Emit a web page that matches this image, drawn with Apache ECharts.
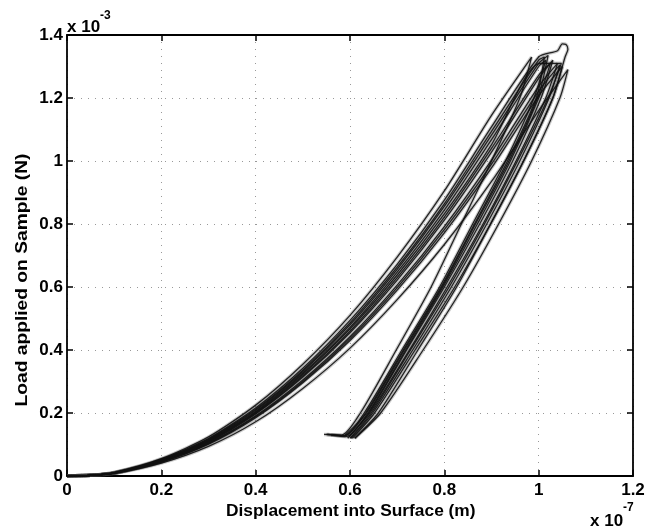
<!DOCTYPE html>
<html><head><meta charset="utf-8">
<script src="https://cdn.jsdelivr.net/npm/echarts@6/dist/echarts.min.js"></script>
<style>html,body{margin:0;padding:0;background:#fff}#c{width:652px;height:532px}</style>
</head><body><div id="c"></div>
<script>
// Tick values / labels (x in units of 1e-7 m, y in units of 1e-3 N)
const xTickValues = [0, 0.2, 0.4, 0.6, 0.8, 1.0, 1.2];
const xTickLabels = ['0', '0.2', '0.4', '0.6', '0.8', '1', '1.2'];
const yTickValues = [0, 0.2, 0.4, 0.6, 0.8, 1.0, 1.2, 1.4];
const yTickLabels = ['0', '0.2', '0.4', '0.6', '0.8', '1', '1.2', '1.4'];
const xAxisTitle = 'Displacement into Surface (m)';
const yAxisTitle = 'Load applied on Sample (N)';
const xExponent = '-7';
const yExponent = '-3';

// Loading branches [displacement, load]
const load1 = [[0,0],[0.05,0.002],[0.1,0.011],[0.2,0.055],[0.3,0.124],[0.4,0.225],[0.5,0.355],[0.6,0.51],[0.7,0.695],[0.8,0.905],[0.9,1.145],[0.985,1.33]];
const load2 = [[0,0],[0.05,0.002],[0.1,0.011],[0.2,0.053],[0.3,0.119],[0.4,0.216],[0.5,0.342],[0.6,0.494],[0.7,0.672],[0.8,0.876],[0.9,1.108],[1.0,1.33],[1.04,1.35],[1.05,1.372],[1.058,1.37]];
const load3 = [[0,0],[0.05,0.002],[0.1,0.010],[0.2,0.051],[0.3,0.115],[0.4,0.209],[0.5,0.332],[0.6,0.48],[0.7,0.656],[0.8,0.856],[0.9,1.082],[1.0,1.31],[1.02,1.335]];
const load4 = [[0,0],[0.05,0.002],[0.1,0.010],[0.2,0.049],[0.3,0.111],[0.4,0.202],[0.5,0.323],[0.6,0.467],[0.7,0.638],[0.8,0.832],[0.9,1.052],[1.003,1.31]];
const load5 = [[0,0],[0.05,0.002],[0.1,0.009],[0.2,0.047],[0.3,0.108],[0.4,0.197],[0.5,0.314],[0.6,0.455],[0.7,0.622],[0.8,0.812],[0.9,1.028],[1.0,1.262],[1.03,1.32]];
const load6 = [[0,0],[0.05,0.002],[0.1,0.009],[0.2,0.046],[0.3,0.105],[0.4,0.191],[0.5,0.305],[0.6,0.442],[0.7,0.606],[0.8,0.792],[0.9,1.003],[1.0,1.237],[1.04,1.31]];
const load7 = [[0,0],[0.05,0.002],[0.1,0.009],[0.2,0.044],[0.3,0.101],[0.4,0.185],[0.5,0.296],[0.6,0.43],[0.7,0.59],[0.8,0.772],[0.9,0.978],[1.0,1.207],[1.05,1.30]];
const load8 = [[0,0],[0.05,0.002],[0.1,0.008],[0.2,0.041],[0.3,0.094],[0.4,0.172],[0.5,0.278],[0.6,0.406],[0.7,0.56],[0.8,0.735],[0.9,0.935],[1.0,1.16],[1.062,1.29]];
const load9 = [[0,0],[0.05,0.002],[0.1,0.010],[0.2,0.050],[0.3,0.113],[0.4,0.205],[0.5,0.327],[0.6,0.472],[0.7,0.647],[0.8,0.844],[0.9,1.068],[1.0,1.30],[1.015,1.32]];
const load10 = [[0,0],[0.05,0.002],[0.1,0.009],[0.2,0.048],[0.3,0.109],[0.4,0.199],[0.5,0.318],[0.6,0.46],[0.7,0.63],[0.8,0.822],[0.9,1.04],[1.0,1.272],[1.025,1.31]];
const load11 = [[0,0],[0.05,0.002],[0.1,0.010],[0.2,0.052],[0.3,0.117],[0.4,0.212],[0.5,0.336],[0.6,0.486],[0.7,0.663],[0.8,0.864],[0.9,1.094],[1.0,1.32],[1.012,1.33]];
const load12 = [[0,0],[0.05,0.002],[0.1,0.009],[0.2,0.045],[0.3,0.103],[0.4,0.188],[0.5,0.3],[0.6,0.436],[0.7,0.598],[0.8,0.782],[0.9,0.99],[1.0,1.222],[1.045,1.305]];

// Unloading branches [displacement, load]
const unload1 = [[0.96,1.2],[0.9,1.0],[0.836,0.8],[0.772,0.6],[0.698,0.4],[0.622,0.2],[0.582,0.13],[0.545,0.132]];
const unload2 = [[1.062,1.355],[1.056,1.33],[1.03,1.2],[0.968,1.0],[0.898,0.8],[0.826,0.6],[0.744,0.4],[0.66,0.2],[0.61,0.12]];
const unload3 = [[1.0,1.21],[0.937,1.0],[0.866,0.8],[0.795,0.6],[0.715,0.4],[0.635,0.2],[0.59,0.13]];
const unload4 = [[1.048,1.31],[1.02,1.2],[0.955,1.0],[0.885,0.8],[0.81,0.6],[0.728,0.4],[0.645,0.2],[0.6,0.12]];
const unload5 = [[1.005,1.2],[0.945,1.0],[0.875,0.8],[0.8,0.6],[0.72,0.4],[0.64,0.2],[0.595,0.12]];
const unload6 = [[1.015,1.2],[0.952,1.0],[0.882,0.8],[0.806,0.6],[0.726,0.4],[0.642,0.2],[0.598,0.125]];
const unload7 = [[1.03,1.2],[0.968,1.0],[0.898,0.8],[0.822,0.6],[0.738,0.4],[0.652,0.2],[0.605,0.12]];
const unload8 = [[1.045,1.2],[0.985,1.0],[0.915,0.8],[0.84,0.6],[0.755,0.4],[0.665,0.2],[0.61,0.12]];
const unload9 = [[0.99,1.2],[0.93,1.0],[0.86,0.8],[0.79,0.6],[0.71,0.4],[0.63,0.2],[0.588,0.128],[0.55,0.132]];
const unload10 = [[1.0,1.2],[0.94,1.0],[0.87,0.8],[0.797,0.6],[0.718,0.4],[0.638,0.2],[0.592,0.125],[0.56,0.13]];
const unload11 = [[0.995,1.2],[0.934,1.0],[0.864,0.8],[0.793,0.6],[0.713,0.4],[0.633,0.2],[0.589,0.128],[0.552,0.132]];
const unload12 = [[1.022,1.2],[0.96,1.0],[0.89,0.8],[0.815,0.6],[0.733,0.4],[0.648,0.2],[0.602,0.12]];

const loads = [load1, load2, load3, load4, load5, load6, load7, load8, load9, load10, load11, load12];
const unloads = [unload1, unload2, unload3, unload4, unload5, unload6, unload7, unload8, unload9, unload10, unload11, unload12];

const FONT = '"Liberation Sans", Arial, Helvetica, sans-serif';
function fmt(values, labels) {
  return function (v) {
    const i = values.findIndex(t => Math.abs(t - v) < 1e-9);
    return i >= 0 ? labels[i] : '';
  };
}

const series = [];
// soft grey underlay to make the dense band look filled
loads.forEach((l, i) => series.push({
  type: 'line', xAxisIndex: 0, yAxisIndex: 0,
  data: l.concat(unloads[i]), showSymbol: false, smooth: 0.25, silent: true,
  lineStyle: { color: '#333', width: 3.5, opacity: 0.25 }, z: 2
}));
// thin dark curves
loads.forEach((l, i) => series.push({
  type: 'line', xAxisIndex: 0, yAxisIndex: 0,
  data: l.concat(unloads[i]), showSymbol: false, smooth: 0.25, silent: true,
  lineStyle: { color: '#111', width: 1.3, opacity: 0.9 }, z: 3
}));

const axisCommon = {
  type: 'value',
  axisLine: { show: true, onZero: false, lineStyle: { color: '#000', width: 1.8 } },
  axisTick: { show: true, inside: true, length: 6, lineStyle: { color: '#000', width: 1.5 } }
};

const chart = echarts.init(document.getElementById('c'), null, { renderer: 'canvas' });
chart.setOption({
  animation: false,
  backgroundColor: '#fff',
  grid: { left: 67, top: 35, width: 566, height: 441, containLabel: false },
  xAxis: [
    Object.assign({}, axisCommon, {
      position: 'bottom', min: 0, max: 1.2, interval: 0.2,
      axisLabel: { formatter: fmt(xTickValues, xTickLabels), margin: 6, color: '#000', fontFamily: FONT, fontWeight: 'bold', fontSize: 17 },
      splitLine: { show: true, lineStyle: { color: '#999', width: 1, type: [1, 6] } }
    }),
    Object.assign({}, axisCommon, {
      position: 'top', min: 0, max: 1.2, interval: 0.2,
      axisLabel: { show: false }, splitLine: { show: false }
    })
  ],
  yAxis: [
    Object.assign({}, axisCommon, {
      position: 'left', min: 0, max: 1.4, interval: 0.2,
      axisLabel: { formatter: fmt(yTickValues, yTickLabels), margin: 4, color: '#000', fontFamily: FONT, fontWeight: 'bold', fontSize: 17 },
      splitLine: { show: true, lineStyle: { color: '#999', width: 1, type: [1, 6] } }
    }),
    Object.assign({}, axisCommon, {
      position: 'right', min: 0, max: 1.4, interval: 0.2,
      axisLabel: { show: false }, splitLine: { show: false }
    })
  ],
  series: series,
  graphic: [
    { type: 'text', left: 226, top: 503, style: { text: xAxisTitle, font: 'bold 17px ' + FONT, fill: '#000' }, scaleX: 1.02 },
    { type: 'text', x: 22, y: 280, rotation: Math.PI / 2, style: { text: yAxisTitle, font: 'bold 17px ' + FONT, fill: '#000', align: 'center', verticalAlign: 'middle' }, scaleX: 1.13 },
    { type: 'text', x: 67, y: 27, style: { text: 'x 10', font: 'bold 17px ' + FONT, fill: '#000', align: 'left', verticalAlign: 'middle' } },
    { type: 'text', x: 100, y: 16, style: { text: yExponent, font: 'bold 12px ' + FONT, fill: '#000', align: 'left', verticalAlign: 'middle' } },
    { type: 'text', x: 590, y: 521, style: { text: 'x 10', font: 'bold 17px ' + FONT, fill: '#000', align: 'left', verticalAlign: 'middle' } },
    { type: 'text', x: 623, y: 508, style: { text: xExponent, font: 'bold 12px ' + FONT, fill: '#000', align: 'left', verticalAlign: 'middle' } }
  ]
});
</script>
</body></html>
